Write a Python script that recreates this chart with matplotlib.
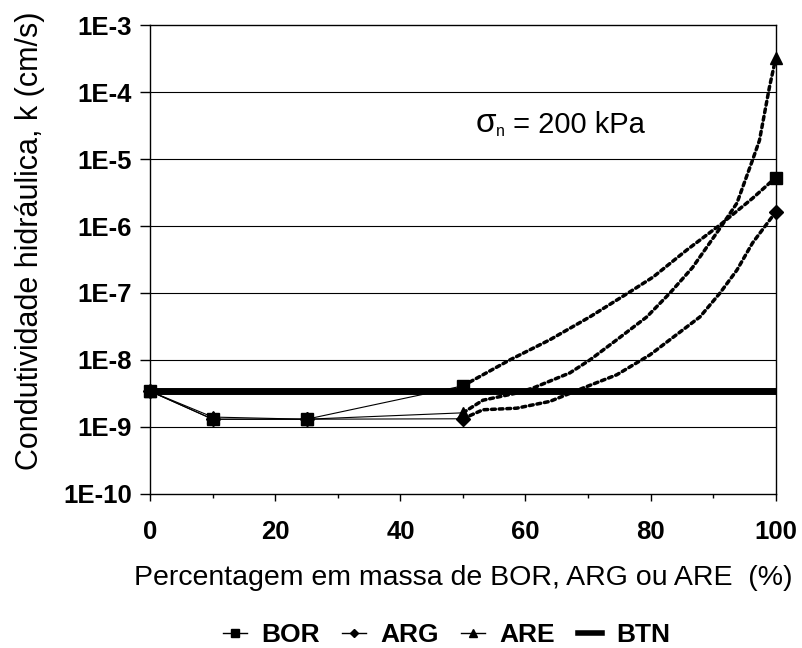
import numpy as np
import matplotlib
matplotlib.use("Agg")
import matplotlib.pyplot as plt

plt.rcParams["font.family"] = ["Liberation Sans", "DejaVu Sans"]

# measured points (% mass, k in cm/s)
pct = [0, 10, 25, 50, 100]
k_bor = [3.4e-9, 1.3e-9, 1.3e-9, 4.1e-9, 5.3e-6]
k_arg = [3.4e-9, 1.3e-9, 1.3e-9, 1.32e-9, 1.62e-6]
k_are = [3.4e-9, 1.4e-9, 1.3e-9, 1.62e-9, 3.2e-4]
k_btn = 3.4e-9

# dotted curves 50 -> 100 %
cx_bor = [50, 53.2, 57.5, 63.9, 70.3, 76.7, 80.4, 85.8, 91.1, 96.3, 100]
cy_bor = [4.1e-9, 6.0e-9, 1.0e-8, 2.0e-8, 4.4e-8, 1.04e-7, 1.73e-7, 4.4e-7, 1.04e-6, 2.6e-6, 5.3e-6]

cx_are = [50, 53.2, 58.6, 61.2, 67.1, 70.3, 74.6, 79.4, 83.1, 86.7, 91.1, 93.8, 96.3, 97.4, 99.0, 100]
cy_are = [1.62e-9, 2.5e-9, 3.2e-9, 3.8e-9, 6.4e-9, 1.0e-8, 2.0e-8, 4.4e-8, 1.0e-7, 2.4e-7,
          9.3e-7, 2.2e-6, 9.7e-6, 1.9e-5, 1.19e-4, 3.2e-4]

cx_arg = [50, 53.2, 58.6, 63.9, 69.2, 74.6, 79.9, 87.9, 91.1, 93.8, 96.3, 100]
cy_arg = [1.32e-9, 1.8e-9, 1.9e-9, 2.4e-9, 3.8e-9, 6.0e-9, 1.19e-8, 4.4e-8, 1.0e-7, 2.2e-7, 5.6e-7, 1.62e-6]

fig = plt.figure(figsize=(8.03, 6.48), dpi=100)
ax = fig.add_axes([0.187, 0.238, 0.779, 0.723])

ax.set_yscale("log")
ax.set_xlim(0, 100)
ax.set_ylim(1e-10, 1e-3)

decades = [10.0 ** e for e in range(-10, -2)]
for d in decades[1:-1]:
    ax.axhline(d, color="black", lw=0.8, zorder=1)

# solid part 0-50
ax.plot(pct[:4], k_are[:4], color="black", lw=0.8, zorder=3)
ax.plot(pct[:4], k_arg[:4], color="black", lw=0.8, zorder=3)
ax.plot(pct[:4], k_bor[:4], color="black", lw=0.8, zorder=3)

# dotted part 50-100
for cx, cy in [(cx_bor, cy_bor), (cx_are, cy_are), (cx_arg, cy_arg)]:
    ax.plot(cx, cy, color="black", lw=2.5, linestyle=(0, (1.1, 1.1)),
            dash_capstyle="round", zorder=3, clip_on=False)

ax.plot([0, 100], [k_btn, k_btn], color="black", lw=5, zorder=4, solid_capstyle="butt")

ax.plot(pct, k_are, linestyle="none", marker="^", ms=8, color="black", zorder=5, clip_on=False)
ax.plot(pct, k_arg, linestyle="none", marker="D", ms=7, color="black", zorder=5, clip_on=False)
ax.plot(pct, k_bor, linestyle="none", marker="s", ms=8, color="black", zorder=6, clip_on=False)

# legend handles
h_bor, = ax.plot([], [], color="black", lw=1.0, marker="s", ms=5.5, label="BOR")
h_arg, = ax.plot([], [], color="black", lw=1.0, marker="D", ms=4.5, label="ARG")
h_are, = ax.plot([], [], color="black", lw=1.0, marker="^", ms=5.5, label="ARE")
h_btn, = ax.plot([], [], color="black", lw=4, label="BTN")
fig.legend(handles=[h_bor, h_arg, h_are, h_btn], loc="center", bbox_to_anchor=(0.556, 0.02),
           ncol=4, frameon=False, prop={"weight": "bold", "size": 19},
           handlelength=0.9, handletextpad=0.55, columnspacing=0.85)

ax.set_xticks([0, 20, 40, 60, 80, 100])
ax.set_xticks([10, 30, 50, 70, 90], minor=True)
ax.set_yticks(decades)
ax.set_yticklabels(["1E-%d" % (-int(round(np.log10(d)))) for d in decades])
ax.yaxis.set_minor_locator(matplotlib.ticker.NullLocator())
ax.tick_params(axis="both", which="major", direction="out", width=1, labelsize=18.5)
ax.tick_params(axis="y", which="major", length=7, pad=6)
ax.tick_params(axis="x", which="major", length=5, pad=14)
ax.tick_params(axis="x", which="minor", direction="out", length=3, width=1)
for lab in ax.get_xticklabels() + ax.get_yticklabels():
    lab.set_fontweight("bold")

for s in ax.spines.values():
    s.set_linewidth(1)
    s.set_color("black")

ax.set_xlabel("Percentagem em massa de BOR, ARG ou ARE  (%)", fontsize=20.5, labelpad=15)
ax.set_ylabel("Condutividade hidráulica, k (cm/s)", fontsize=22)
ax.yaxis.set_label_coords(-0.168, 0.54)

t1 = ax.text(52.0, 2.5e-5, "σ", fontsize=24, va="baseline")
t2 = ax.annotate("n", xy=(1, 0), xycoords=t1, va="bottom", fontsize=11.5)
ax.annotate(" = 200 kPa", xy=(1, 0), xycoords=t2, va="bottom", fontsize=21)

fig.savefig("out.png", dpi=100)
